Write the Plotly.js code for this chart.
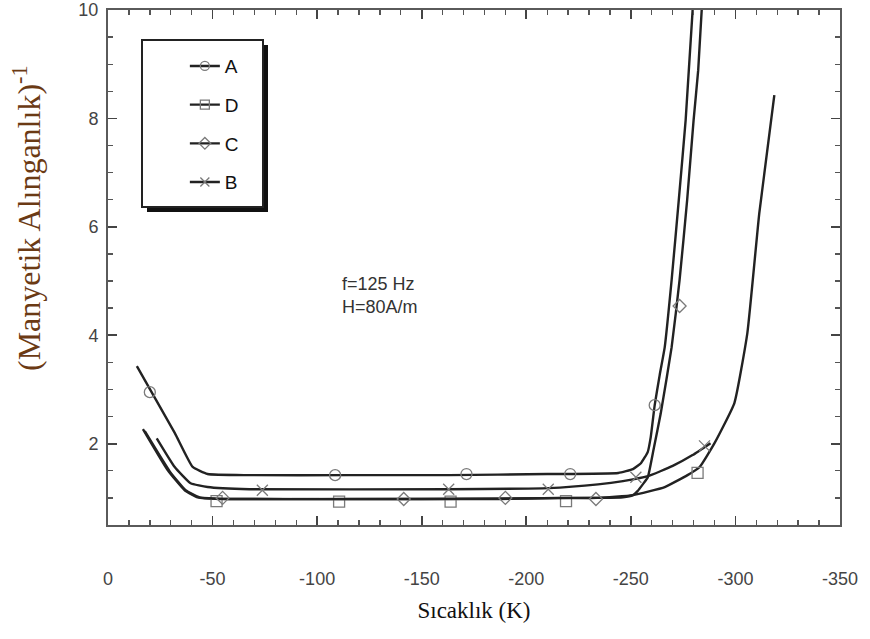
<!DOCTYPE html>
<html>
<head>
<meta charset="utf-8">
<script src="https://cdn.plot.ly/plotly-3.0.1.min.js"></script>
<style>
  html, body { margin: 0; padding: 0; background: #ffffff; }
  #chart { width: 870px; height: 639px; }
</style>
</head>
<body>
<div id="chart"></div>
<script>
// ---- data (temperature in K, inverse susceptibility) ----
const seriesNames = ['A', 'D', 'C', 'B'];

const lineA_T = [-13.8, -31.9, -40.5, -47.6, -67.6, -115, -163, -210, -244, -251, -254.8, -258.1, -259.5, -261.4, -263.8, -266.2, -269.5, -272.9, -276.2, -280];
const lineA_Y = [3.43, 2.20, 1.57, 1.44, 1.42, 1.42, 1.42, 1.44, 1.46, 1.53, 1.64, 1.85, 2.12, 2.71, 3.27, 3.78, 5.02, 6.49, 7.97, 10.28];
const markA_T = [-20, -108.6, -171.4, -221, -261.4];
const markA_Y = [2.95, 1.42, 1.44, 1.44, 2.71];

const lineD_T = [-16.7, -28.6, -36.7, -42.9, -53.3, -115.2, -186.7, -215.2, -234.3, -251, -266.2, -277.1, -282.9, -290, -299.5, -305.7, -311.4, -318.6];
const lineD_Y = [2.27, 1.51, 1.14, 1.01, 0.98, 0.98, 0.98, 1.00, 1.00, 1.05, 1.20, 1.42, 1.57, 2.01, 2.75, 4.04, 6.25, 8.43];
const markD_T = [-51.9, -110.5, -163.8, -219, -281.9];
const markD_Y = [0.94, 0.93, 0.93, 0.94, 1.46];

const lineC_T = [-17.6, -29.5, -37.1, -43.8, -58.1, -150, -234.3, -246.2, -251, -253.3, -255.7, -258.1, -261, -264.3, -269.5, -273.3, -276.9, -280, -282.2, -284.3];
const lineC_Y = [2.23, 1.49, 1.14, 1.01, 0.98, 0.98, 1.00, 1.01, 1.05, 1.13, 1.25, 1.38, 1.92, 2.56, 3.78, 5.02, 6.49, 7.97, 8.89, 10.28];
const markC_T = [-54.8, -141.4, -190, -233.3, -273.3];
const markC_Y = [1.00, 0.98, 1.00, 0.98, 4.54];

const lineB_T = [-23.3, -31.9, -39.5, -47.6, -67.6, -162.9, -210.5, -234.3, -246.2, -258.1, -270, -279.5, -288.1];
const lineB_Y = [2.10, 1.57, 1.27, 1.20, 1.16, 1.16, 1.18, 1.25, 1.31, 1.40, 1.59, 1.79, 2.01];
const markB_T = [-73.8, -162.9, -210.5, -252.4, -285.2];
const markB_Y = [1.14, 1.16, 1.16, 1.38, 1.96];

const xTickVals = [0, -50, -100, -150, -200, -250, -300, -350];
const xTickText = ['0', '-50', '-100', '-150', '-200', '-250', '-300', '-350'];
const yTickVals = [2, 4, 6, 8, 10];

const noteLines = ['f=125 Hz', 'H=80A/m'];

// ---- styles ----
const lineColor = '#222222';
const markColor = '#7a7a7a';
const frameColor = '#5a5a5a';
const symbols = { A: 'circle-open', D: 'square-open', C: 'diamond-open', B: 'x-thin-open' };
const lines = { A: [lineA_T, lineA_Y], D: [lineD_T, lineD_Y], C: [lineC_T, lineC_Y], B: [lineB_T, lineB_Y] };
const marks = { A: [markA_T, markA_Y], D: [markD_T, markD_Y], C: [markC_T, markC_Y], B: [markB_T, markB_Y] };

const traces = [];
seriesNames.forEach(function (n) {
  traces.push({
    x: lines[n][0], y: lines[n][1], type: 'scatter', mode: 'lines',
    line: { color: lineColor, width: 2.4, shape: 'spline', smoothing: 0.4 },
    legendgroup: n, showlegend: false, hoverinfo: 'skip'
  });
  traces.push({
    x: marks[n][0], y: marks[n][1], type: 'scatter', mode: 'markers',
    marker: { symbol: symbols[n], size: n === 'C' ? 10 : 11, color: markColor, line: { width: 1.3, color: markColor } },
    legendgroup: n, showlegend: false
  });
  traces.push({
    x: [null], y: [null], type: 'scatter', mode: 'lines+markers', name: n,
    line: { color: lineColor, width: 2.4 },
    marker: { symbol: symbols[n], size: 9, color: markColor, line: { width: 1.3, color: markColor } },
    legendgroup: n, showlegend: true
  });
});

const layout = {
  width: 870, height: 639,
  paper_bgcolor: '#ffffff', plot_bgcolor: '#ffffff',
  margin: { l: 108, r: 30, t: 10, b: 114 },
  showlegend: true,
  legend: {
    x: 0.105, y: 0.928, xanchor: 'left', yanchor: 'top',
    bgcolor: 'rgba(0,0,0,0)', borderwidth: 0,
    traceorder: 'grouped', tracegroupgap: 11,
    font: { family: 'Liberation Sans, Arial, sans-serif', size: 19, color: '#111111' }
  },
  xaxis: {
    range: [0, -350], showline: true, linecolor: frameColor, linewidth: 2, mirror: 'allticks',
    ticks: 'inside', ticklen: 9, tickwidth: 1.8, tickcolor: '#444444',
    tickmode: 'array', tickvals: xTickVals, ticktext: xTickText,
    minor: { dtick: 10, ticks: 'inside', ticklen: 5, tickwidth: 1.4, tickcolor: '#555555' },
    showgrid: false, zeroline: false,
    ticklabelstandoff: 36,
    tickfont: { family: 'Liberation Sans, Arial, sans-serif', size: 18, color: '#444444' },
    title: { text: 'Sıcaklık (K)', standoff: 14, font: { family: 'Liberation Serif, Times New Roman, serif', size: 23, color: '#111111' } }
  },
  yaxis: {
    range: [0.5, 10], showline: true, linecolor: frameColor, linewidth: 2, mirror: 'allticks',
    ticks: 'inside', ticklen: 9, tickwidth: 1.8, tickcolor: '#444444',
    tickmode: 'array', tickvals: yTickVals,
    minor: { dtick: 0.5, ticks: 'inside', ticklen: 5, tickwidth: 1.4, tickcolor: '#555555' },
    showgrid: false, zeroline: false,
    ticklabelstandoff: 4,
    tickfont: { family: 'Liberation Sans, Arial, sans-serif', size: 18, color: '#444444' }
  },
  shapes: [
    { type: 'rect', xref: 'paper', yref: 'paper', x0: (147 - 108) / 732, x1: (268 - 108) / 732, y0: (525 - 212) / 515, y1: (525 - 45) / 515,
      fillcolor: '#111111', line: { width: 0 }, layer: 'above' },
    { type: 'rect', xref: 'paper', yref: 'paper', x0: (142 - 108) / 732, x1: (263 - 108) / 732, y0: (525 - 207) / 515, y1: (525 - 40) / 515,
      fillcolor: '#ffffff', line: { width: 2, color: '#222222' }, layer: 'above' }
  ],
  annotations: [
    { xref: 'paper', yref: 'paper', x: (340 - 108) / 732, y: (525 - 295) / 515, xanchor: 'left', yanchor: 'middle',
      text: noteLines.join('<br>'), align: 'left', showarrow: false,
      font: { family: 'Liberation Sans, Arial, sans-serif', size: 18, color: '#333333' } },
    { xref: 'paper', yref: 'paper', x: (27 - 108) / 732, y: (525 - 218) / 515, xanchor: 'center', yanchor: 'middle',
      textangle: -90, text: '(Manyetik Alınganlık)<sup>-1</sup>', showarrow: false,
      font: { family: 'Liberation Serif, Times New Roman, serif', size: 32, color: '#6b3a14' } }
  ]
};

Plotly.newPlot('chart', traces, layout, { displayModeBar: false, staticPlot: true });
</script>
</body>
</html>
